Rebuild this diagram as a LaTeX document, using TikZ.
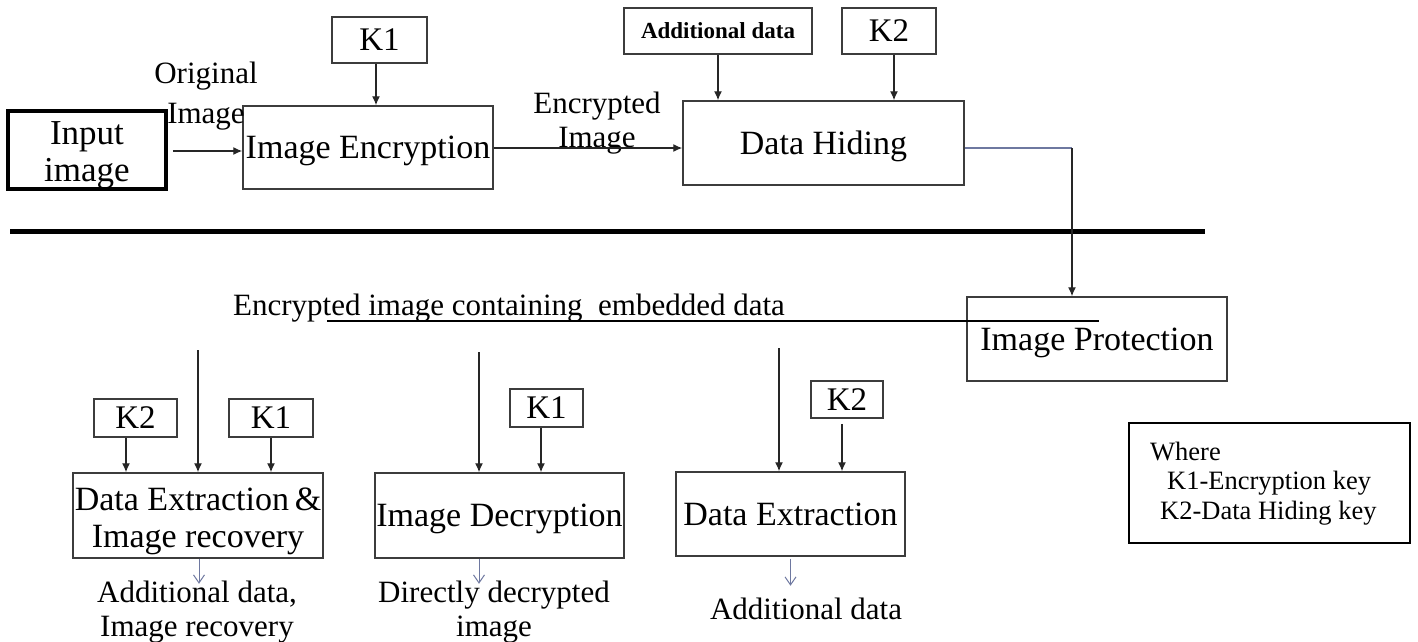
\documentclass[tikz,border=0pt]{standalone}
\usepackage{fontspec}
\setmainfont{Liberation Serif}
\usetikzlibrary{arrows.meta,calc}

\definecolor{boxgray}{RGB}{60,60,60}
\definecolor{outblue}{RGB}{110,120,160}

\newcommand\bxfont{\fontsize{34}{38}\selectfont}
\newcommand\lbfont{\fontsize{31}{34}\selectfont}
\newcommand\lgfont{\fontsize{26.5}{30}\selectfont}

\tikzset{
  box/.style={draw=boxgray, line width=1.5pt, inner sep=0pt, text depth=0pt, font=\bxfont},
  keybox/.style={box, font=\fontsize{33}{36}\selectfont},
  lbl/.style={inner sep=0pt, font=\lbfont, align=center},
  arr/.style={line width=1.3pt, draw=black!85, -{Latex[length=9pt,width=8pt]}},
  outarr/.style={draw=outblue, line width=1pt, -{Straight Barb[length=8pt,width=11pt]}},
}

\begin{document}
\begin{tikzpicture}[x=1pt,y=-1pt]
\useasboundingbox (0,0) rectangle (1418,641);

% ---------- embedding side ----------
\node[box, draw=black, line width=3.5pt, minimum width=158pt, minimum height=78pt] (inp) at (87,150) {};
\node[lbl, font=\fontsize{35}{37}\selectfont] (inpt) at (87,155) {Input\\image};
\node[box, minimum width=250pt, minimum height=83pt] (enc) at (368,147.5) {Image Encryption};
\node[keybox, minimum width=95pt, minimum height=46pt] (k1a) at (379.5,40) {K1};
\node[box, minimum width=188pt, minimum height=46pt, font=\fontsize{23}{26}\selectfont\bfseries] (add) at (718,31) {Additional data};
\node[keybox, minimum width=94pt, minimum height=46pt] (k2a) at (889,31) {K2};
\node[box, minimum width=281pt, minimum height=84pt] (hide) at (823.5,143) {Data Hiding};

\node[lbl, font=\fontsize{31}{40}\selectfont] (orig) at (206,96) {Original\\Image};
\node[lbl] (encl) at (597,123) {Encrypted\\Image};

\draw[arr] (inp.east |- 0,151) ++(5,0) coordinate (ia) -- (enc.west |- ia);
\draw[arr] ([xshift=-3.5pt]k1a.south) -- ([xshift=-3.5pt]k1a.south |- enc.north);
\draw[arr] (add.south) -- (add.south |- hide.north);
\draw[arr] ([xshift=5pt]k2a.south) -- ([xshift=5pt]k2a.south |- hide.north);
\draw[arr] (enc.east |- 0,148) coordinate (ea) -- (hide.west |- ea);

% separator
\coordinate (sepL) at (10,231);
\coordinate (sepR) at (1205,231);
\draw[line width=5pt] (sepL) -- (sepR);

% ---------- protected image ----------
\node[box, minimum width=260pt, minimum height=84pt] (prot) at (1097,339) {Image Protection};
\coordinate (bend) at (1072,148);
\draw[draw=outblue, line width=1.2pt] (hide.east |- bend) -- (bend);
\draw[arr] (bend) -- (bend |- prot.north);

\node[lbl, anchor=base] (ctxt) at (509,315) {Encrypted image containing\ \ embedded data};
\coordinate (ulA) at (327,321);
\coordinate (ulB) at (1099,321);
\draw[line width=2pt] (ulA) -- (ulB);

% ---------- extraction side ----------
\node[box, minimum width=250pt, minimum height=85pt] (dex) at (198,515.5) {};
\node[lbl, font=\fontsize{34}{37}\selectfont] (dext) at (198,521) {Data Extraction\,\&\\Image recovery};
\node[keybox, minimum width=83pt, minimum height=38pt] (k2b) at (135.5,418) {K2};
\node[keybox, minimum width=84pt, minimum height=38pt] (k1b) at (271,418) {K1};
\coordinate (s1) at (198,350);
\draw[arr] ([xshift=-9.5pt]k2b.south) -- ([xshift=-9.5pt]k2b.south |- dex.north);
\draw[arr] (k1b.south) -- (k1b.south |- dex.north);
\draw[arr] (s1) -- (s1 |- dex.north);

\node[box, minimum width=249pt, minimum height=85pt] (dec) at (499.5,515.5) {Image Decryption};
\node[keybox, minimum width=73pt, minimum height=38pt] (k1c) at (546.5,408) {K1};
\coordinate (s2) at (479,352);
\draw[arr] ([xshift=-5.5pt]k1c.south) -- ([xshift=-5.5pt]k1c.south |- dec.north);
\draw[arr] (s2) -- (s2 |- dec.north);

\node[box, minimum width=229pt, minimum height=84pt] (dx) at (790.5,514) {Data Extraction};
\node[keybox, minimum width=72pt, minimum height=37pt] (k2c) at (847,399.5) {K2};
\coordinate (s3) at (779,348);
\draw[arr] ([xshift=-5pt]k2c.south) ++(0,5) coordinate (k2cs) -- (k2cs |- dx.north);
\draw[arr] (s3) -- (s3 |- dx.north);

% outputs
\node[lbl] (o1) at (197,612) {Additional data,\\Image recovery};
\node[lbl] (o2) at (494,612) {Directly decrypted\\image};
\node[lbl] (o3) at (806,609) {Additional data};
\draw[outarr] ([xshift=1pt]dex.south) -- ++(0,25);
\draw[outarr] ([xshift=-20.5pt]dec.south) -- ++(0,25);
\draw[outarr] (dx.south) ++(0,2) -- ++(0,27);

% ---------- legend ----------
\node[draw=black, line width=2pt, minimum width=281pt, minimum height=120pt] (leg) at (1269.5,483) {};
\node[anchor=west, inner sep=0pt, font=\lgfont] (lw) at (1150,451) {Where};
\node[anchor=west, inner sep=0pt, font=\lgfont] (l1) at (1167,483) {K1-Encryption key};
\node[anchor=west, inner sep=0pt, font=\lgfont] (l2) at (1160,513) {K2-Data Hiding key};
\end{tikzpicture}
\end{document}
